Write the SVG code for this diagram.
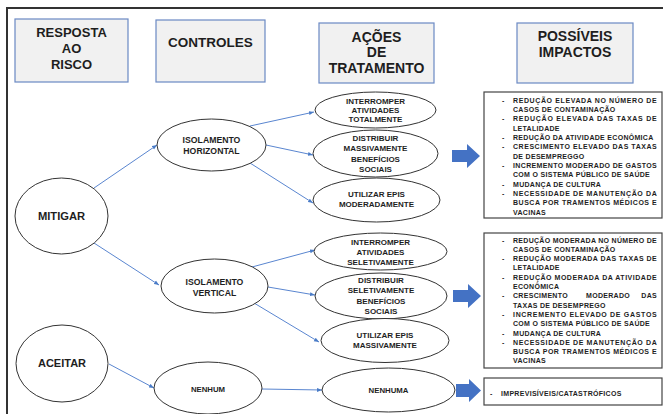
<svg xmlns="http://www.w3.org/2000/svg" width="663" height="414" viewBox="0 0 663 414">
<defs>
<style>
.frame{fill:none;stroke:#333;stroke-width:2}
.hbox{fill:#f1f1f1;stroke:#6a89c4;stroke-width:1.2}
.htxt{font-family:"Liberation Sans",Arial,sans-serif;font-weight:bold;fill:#1e1e1e;text-anchor:middle}
.ell{fill:#fff;stroke:#333;stroke-width:1}
.etxt{font-family:"Liberation Sans",Arial,sans-serif;font-weight:bold;fill:#1e1e1e;text-anchor:middle}
.conn{fill:none;stroke:#5a86d0;stroke-width:1;marker-end:url(#ah)}
.big{fill:#4472c4}
.ibox{fill:#fff;stroke:#444;stroke-width:1.2}
.itxt{font-family:"Liberation Sans",Arial,sans-serif;font-weight:bold;font-size:7px;letter-spacing:0.3px;fill:#1e1e1e}
</style>
<marker id="ah" viewBox="0 0 10 10" refX="10" refY="5" markerWidth="5" markerHeight="5" markerUnits="userSpaceOnUse" orient="auto"><path d="M0,1 L10,5 L0,9 z" fill="#4a7cc7"/></marker>
</defs>
<rect width="663" height="414" fill="#fff"/>
<path class="frame" d="M7,414 V8 H663"/>

<g id="h-resposta"><rect class="hbox" x="15" y="19" width="113" height="63"/><text class="htxt" font-size="13"><tspan x="71.5" y="37">RESPOSTA</tspan><tspan x="71.5" y="53">AO</tspan><tspan x="71.5" y="69">RISCO</tspan></text></g>
<g id="h-controles"><rect class="hbox" x="156" y="20" width="109" height="62"/><text class="htxt" font-size="13.5" x="210.5" y="47">CONTROLES</text></g>
<g id="h-acoes"><rect class="hbox" x="319" y="23" width="115" height="60"/><text class="htxt" font-size="14"><tspan x="376.5" y="42">AÇÕES</tspan><tspan x="376.5" y="57">DE</tspan><tspan x="376.5" y="73">TRATAMENTO</tspan></text></g>
<g id="h-impactos"><rect class="hbox" x="517" y="23" width="116" height="60"/><text class="htxt" font-size="14"><tspan x="575" y="41">POSSÍVEIS</tspan><tspan x="575" y="57">IMPACTOS</tspan></text></g>

<g id="connectors">
<line class="conn" x1="94" y1="188" x2="157" y2="145"/>
<line class="conn" x1="94" y1="243" x2="159" y2="285"/>
<line class="conn" x1="250" y1="126" x2="314" y2="112"/>
<line class="conn" x1="266" y1="145" x2="313" y2="155"/>
<line class="conn" x1="250" y1="163" x2="313" y2="203"/>
<line class="conn" x1="252" y1="267" x2="315" y2="250"/>
<line class="conn" x1="268" y1="287" x2="315" y2="295"/>
<line class="conn" x1="254" y1="303" x2="319" y2="342"/>
<line class="conn" x1="109" y1="364" x2="154" y2="388"/>
<line class="conn" x1="262" y1="389" x2="322" y2="390"/>
</g>

<g id="mitigar"><ellipse class="ell" cx="61.5" cy="216" rx="46.5" ry="38"/><text class="etxt" font-size="11.2" x="61.5" y="220">MITIGAR</text></g>
<g id="aceitar"><ellipse class="ell" cx="62" cy="363.5" rx="46" ry="38.5"/><text class="etxt" font-size="11" x="62" y="367">ACEITAR</text></g>

<g id="isol-h"><ellipse class="ell" cx="211.5" cy="145" rx="54.5" ry="26"/><text class="etxt" font-size="8.7"><tspan x="211.5" y="143">ISOLAMENTO</tspan><tspan x="211.5" y="154">HORIZONTAL</tspan></text></g>
<g id="isol-v"><ellipse class="ell" cx="214.5" cy="286" rx="53.5" ry="27"/><text class="etxt" font-size="8.7"><tspan x="214.5" y="285">ISOLAMENTO</tspan><tspan x="214.5" y="296">VERTICAL</tspan></text></g>
<g id="nenhum"><ellipse class="ell" cx="208" cy="388" rx="54" ry="26"/><text class="etxt" font-size="7.8" x="208" y="392">NENHUM</text></g>

<g id="a-interromper-tot"><ellipse class="ell" cx="375.5" cy="110" rx="60.5" ry="18"/><text class="etxt" font-size="8"><tspan x="375.5" y="104">INTERROMPER</tspan><tspan x="375.5" y="113">ATIVIDADES</tspan><tspan x="375.5" y="122">TOTALMENTE</tspan></text></g>
<g id="a-distribuir-mass"><ellipse class="ell" cx="375.5" cy="153.5" rx="62.5" ry="23.5"/><text class="etxt" font-size="8"><tspan x="375.5" y="141">DISTRIBUIR</tspan><tspan x="375.5" y="151">MASSIVAMENTE</tspan><tspan x="375.5" y="162">BENEFÍCIOS</tspan><tspan x="375.5" y="172">SOCIAIS</tspan></text></g>
<g id="a-epis-mod"><ellipse class="ell" cx="376.5" cy="200" rx="63.5" ry="22"/><text class="etxt" font-size="8"><tspan x="376.5" y="197">UTILIZAR EPIS</tspan><tspan x="376.5" y="207">MODERADAMENTE</tspan></text></g>
<g id="a-interromper-sel"><ellipse class="ell" cx="380.5" cy="251.5" rx="66.5" ry="18.5"/><text class="etxt" font-size="8"><tspan x="380.5" y="245">INTERROMPER</tspan><tspan x="380.5" y="255">ATIVIDADES</tspan><tspan x="380.5" y="265">SELETIVAMENTE</tspan></text></g>
<g id="a-distribuir-sel"><ellipse class="ell" cx="381" cy="296" rx="66" ry="23"/><text class="etxt" font-size="8"><tspan x="381" y="283">DISTRIBUIR</tspan><tspan x="381" y="293">SELETIVAMENTE</tspan><tspan x="381" y="304">BENEFÍCIOS</tspan><tspan x="381" y="314">SOCIAIS</tspan></text></g>
<g id="a-epis-mass"><ellipse class="ell" cx="385" cy="340.5" rx="64" ry="22"/><text class="etxt" font-size="8"><tspan x="385" y="338">UTILIZAR EPIS</tspan><tspan x="385" y="348">MASSIVAMENTE</tspan></text></g>
<g id="a-nenhuma"><ellipse class="ell" cx="388.5" cy="390" rx="66.5" ry="22"/><text class="etxt" font-size="7.8" x="388.5" y="393">NENHUMA</text></g>

<g id="arrows">
<polygon class="big" points="452,150 467,150 467,144 480,156 467,168 467,162 452,162"/>
<polygon class="big" points="453,290 468,290 468,284 481,296 468,308 468,302 453,302"/>
<polygon class="big" points="456,384 469,384 469,379 481,390.5 469,402 469,397 456,397"/>
</g>

<g id="impacto-1"><rect class="ibox" x="484" y="92" width="178" height="126"/>
<g class="itxt">
<text x="502" y="102.5">-</text><text x="513" y="102.5" textLength="144" lengthAdjust="spacing">REDUÇÃO ELEVADA NO NÚMERO DE</text>
<text x="513" y="111.9">CASOS DE CONTAMINAÇÃO</text>
<text x="502" y="121.2">-</text><text x="513" y="121.2" textLength="144" lengthAdjust="spacing">REDUÇÃO ELEVADA DAS TAXAS DE</text>
<text x="513" y="130.6">LETALIDADE</text>
<text x="502" y="139.9">-</text><text x="513" y="139.9">REDUÇÃO DA ATIVIDADE ECONÔMICA</text>
<text x="502" y="149.3">-</text><text x="513" y="149.3" textLength="144" lengthAdjust="spacing">CRESCIMENTO ELEVADO DAS TAXAS</text>
<text x="513" y="158.6">DE DESEMPREGGO</text>
<text x="502" y="168">-</text><text x="513" y="168" textLength="144" lengthAdjust="spacing">INCREMENTO MODERADO DE GASTOS</text>
<text x="513" y="177.3">COM O SISTEMA PÚBLICO DE SAÚDE</text>
<text x="502" y="186.7">-</text><text x="513" y="186.7">MUDANÇA DE CULTURA</text>
<text x="502" y="196">-</text><text x="513" y="196" textLength="144" lengthAdjust="spacing">NECESSIDADE DE MANUTENÇÃO DA</text>
<text x="513" y="205.4" textLength="144" lengthAdjust="spacing">BUSCA POR TRAMENTOS MÉDICOS E</text>
<text x="513" y="214.7">VACINAS</text>
</g></g>

<g id="impacto-2"><rect class="ibox" x="484" y="233" width="178" height="135"/>
<g class="itxt">
<text x="502" y="242.5">-</text><text x="513" y="242.5" textLength="144" lengthAdjust="spacing">REDUÇÃO MODERADA NO NÚMERO DE</text>
<text x="513" y="251.8">CASOS DE CONTAMINAÇÃO</text>
<text x="502" y="261.1">-</text><text x="513" y="261.1" textLength="144" lengthAdjust="spacing">REDUÇÃO MODERADA DAS TAXAS DE</text>
<text x="513" y="270.4">LETALIDADE</text>
<text x="502" y="279.7">-</text><text x="513" y="279.7" textLength="144" lengthAdjust="spacing">REDUÇÃO MODERADA  DA ATIVIDADE</text>
<text x="513" y="289">ECONÔMICA</text>
<text x="502" y="298.3">-</text><text x="513" y="298.3">CRESCIMENTO</text><text x="586" y="298.3">MODERADO</text><text x="657" y="298.3" text-anchor="end">DAS</text>
<text x="513" y="307.6">TAXAS DE DESEMPREGO</text>
<text x="502" y="316.9">-</text><text x="513" y="316.9" textLength="144" lengthAdjust="spacing">INCREMENTO ELEVADO DE GASTOS</text>
<text x="513" y="326.2">COM O SISTEMA PÚBLICO DE SAÚDE</text>
<text x="502" y="335.5">-</text><text x="513" y="335.5">MUDANÇA DE CULTURA</text>
<text x="502" y="344.8">-</text><text x="513" y="344.8" textLength="144" lengthAdjust="spacing">NECESSIDADE DE MANUTENÇÃO DA</text>
<text x="513" y="354.1" textLength="144" lengthAdjust="spacing">BUSCA POR TRAMENTOS MÉDICOS E</text>
<text x="513" y="363.4">VACINAS</text>
</g></g>

<g id="impacto-3"><rect class="ibox" x="484" y="378" width="178" height="27"/>
<g class="itxt"><text x="490" y="395.5">-</text><text x="501" y="395.5">IMPREVISÍVEIS/CATASTRÓFICOS</text></g></g>
</svg>
